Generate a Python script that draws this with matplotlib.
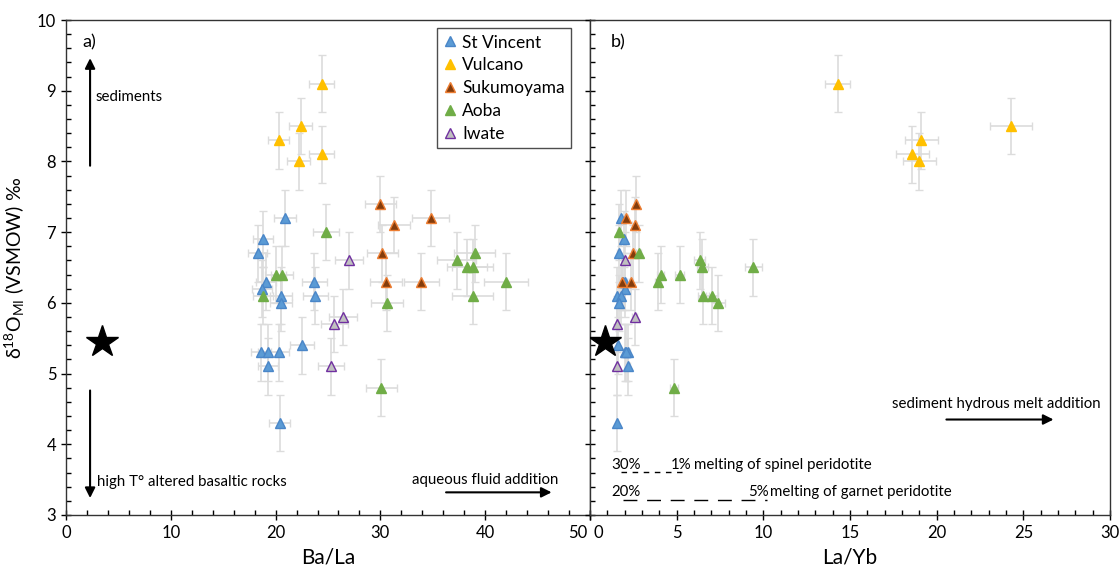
import matplotlib
matplotlib.use("Agg")
import matplotlib.pyplot as plt
import matplotlib.transforms as mtransforms
import numpy as np
from matplotlib.ticker import MultipleLocator

plt.rcParams['font.family'] = ['Lato', 'DejaVu Sans']
plt.rcParams['mathtext.default'] = 'regular'

# --- melt inclusion data: d18O (VSMOW), Ba/La and La/Yb per sample ---
stv_d18o = [7.2, 6.9, 6.7, 6.3, 6.3, 6.2, 6.1, 6.1, 6.0, 5.4, 5.3, 5.3, 5.3, 5.1, 4.3]
stv_bala = [20.9, 18.8, 18.3, 19.05, 23.7, 18.7, 20.5, 23.8, 20.5, 22.5, 18.6, 19.25, 20.3, 19.25, 20.4]
stv_layb = [1.76, 1.94, 1.65, 2.03, 1.9, 1.99, 1.57, 1.76, 1.65, 1.61, 1.99, 2.19, 2.1, 2.19, 1.55]

vul_d18o = [9.1, 8.5, 8.3, 8.1, 8.0]
vul_bala = [24.4, 22.4, 20.3, 24.4, 22.2]
vul_layb = [14.3, 24.3, 19.1, 18.6, 19.0]

suk_d18o = [7.4, 7.2, 7.1, 6.7, 6.3, 6.3]
suk_bala = [30.0, 34.8, 31.3, 30.2, 30.5, 33.9]
suk_layb = [2.65, 2.09, 2.57, 2.5, 1.86, 2.38]

aoba_d18o = [7.0, 6.7, 6.6, 6.5, 6.5, 6.4, 6.4, 6.3, 6.1, 6.1, 6.0, 4.8]
aoba_bala = [24.8, 39.0, 37.3, 38.3, 38.8, 20.0, 20.6, 42.0, 18.8, 38.8, 30.6, 30.1]
aoba_layb = [1.65, 2.82, 6.33, 6.47, 9.43, 4.08, 5.17, 3.92, 6.54, 7.04, 7.39, 4.83]

iwa_d18o = [6.6, 5.8, 5.7, 5.1]
iwa_bala = [27.0, 26.4, 25.6, 25.3]
iwa_layb = [2.0, 2.57, 1.55, 1.55]

# depleted mantle reference (star)
mantle_d18o = 5.45
mantle_bala = 3.4
mantle_layb = 0.85

D18O_ERR = 0.4        # 1 sigma on d18O
RATIO_REL_ERR = 0.05  # relative error on trace element ratios

series = [
    ("St Vincent", stv_d18o, stv_bala, stv_layb, '#5b9bd5', '#4a86c8'),
    ("Vulcano", vul_d18o, vul_bala, vul_layb, '#ffc000', '#ffc000'),
    ("Sukumoyama", suk_d18o, suk_bala, suk_layb, '#843c0c', '#ed7d31'),
    ("Aoba", aoba_d18o, aoba_bala, aoba_layb, '#70ad47', '#70ad47'),
    ("Iwate", iwa_d18o, iwa_bala, iwa_layb, '#c0c0c0', '#7030a0'),
]

ANN = 10.8  # annotation font size

fig = plt.figure(figsize=(11.2, 5.72), dpi=100)
ax_a = fig.add_axes([0.0589, 0.0997, 0.4679, 0.8653])
ax_b = fig.add_axes([0.5268, 0.0997, 0.4643, 0.8653])


def draw_panel(ax, idx):
    handles = []
    for name, d18o, bala, layb, fc, ec in series:
        xv = np.array(bala if idx == 0 else layb)
        yv = np.array(d18o)
        ax.errorbar(xv, yv, xerr=RATIO_REL_ERR * xv, yerr=D18O_ERR, fmt='none',
                    ecolor='#dcdcdc', elinewidth=1.2, capsize=3, capthick=1.0, zorder=1)
        h, = ax.plot(xv, yv, ls='none', marker='^', ms=7.5, mfc=fc, mec=ec,
                     mew=1.0, zorder=3, label=name)
        handles.append(h)
    mx = mantle_bala if idx == 0 else mantle_layb
    ax.plot([mx], [mantle_d18o], ls='none', marker='*', ms=24, color='black', zorder=4)
    ax.set_ylim(3, 10)
    ax.yaxis.set_major_locator(MultipleLocator(1))
    ax.yaxis.set_minor_locator(MultipleLocator(0.2))
    ax.tick_params(which='major', direction='inout', length=7, width=1, labelsize=12)
    ax.tick_params(which='minor', direction='in', length=3.5, width=1)
    for sp in ax.spines.values():
        sp.set_linewidth(1.0)
        sp.set_color('#333333')
    return handles


handles = draw_panel(ax_a, 0)
draw_panel(ax_b, 1)

# --- panel a: Ba/La ---
ax_a.set_xlim(0, 50)
ax_a.xaxis.set_major_locator(MultipleLocator(10))
ax_a.xaxis.set_minor_locator(MultipleLocator(2))
ax_a.set_xlabel("Ba/La", fontsize=15, labelpad=5)
ax_a.set_ylabel(r"δ$^{18}$O$_{MI}$ (VSMOW) ‰", fontsize=14, labelpad=7)

ax_a.text(0.032, 0.955, "a)", transform=ax_a.transAxes, fontsize=13, va='center')
ax_a.annotate('', xy=(2.3, 9.5), xytext=(2.3, 7.9),
              arrowprops=dict(arrowstyle='-|>', color='black', lw=1.5, mutation_scale=15))
ax_a.text(2.8, 8.91, "sediments", fontsize=ANN, va='center')
ax_a.annotate('', xy=(2.3, 3.2), xytext=(2.3, 4.8),
              arrowprops=dict(arrowstyle='-|>', color='black', lw=1.5, mutation_scale=15))
ax_a.text(3.0, 3.47, "high T° altered basaltic rocks", fontsize=ANN, va='center')
ax_a.annotate('', xy=(46.6, 3.32), xytext=(36.0, 3.32),
              arrowprops=dict(arrowstyle='-|>', color='black', lw=1.5, mutation_scale=15))
ax_a.text(33.0, 3.49, "aqueous fluid addition", fontsize=ANN, va='center')

leg = ax_a.legend(handles=handles, loc='upper left', bbox_to_anchor=(0.708, 0.983),
                  fontsize=12.5, frameon=True, fancybox=False, edgecolor='#222222',
                  handlelength=0.8, handletextpad=0.3, labelspacing=0.4,
                  borderpad=0.35, borderaxespad=0)
leg.get_frame().set_linewidth(1.0)

# --- panel b: La/Yb ---
ax_b.set_xlim(0, 30)
ax_b.xaxis.set_major_locator(MultipleLocator(5))
ax_b.xaxis.set_minor_locator(MultipleLocator(1))
ax_b.tick_params(axis='y', labelleft=False)
ax_b.set_xlabel("La/Yb", fontsize=15, labelpad=5)

ax_b.text(0.04, 0.955, "b)", transform=ax_b.transAxes, fontsize=13, va='center')
ax_b.text(17.4, 4.57, "sediment hydrous melt addition", fontsize=ANN, va='center')
ax_b.annotate('', xy=(26.9, 4.35), xytext=(20.4, 4.35),
              arrowprops=dict(arrowstyle='-|>', color='black', lw=1.5, mutation_scale=15))

# melting trends (spinel and garnet peridotite)
ax_b.plot([1.8, 5.3], [3.61, 3.61], color='black', lw=1.0, ls=(0, (4, 4)))
ax_b.text(1.24, 3.71, "30%", fontsize=ANN, va='center')
ax_b.text(4.65, 3.71, "1%", fontsize=ANN, va='center')
ax_b.text(6.0, 3.71, "melting of spinel peridotite", fontsize=ANN, va='center')

ax_b.plot([1.9, 10.2], [3.21, 3.21], color='black', lw=1.0, ls=(0, (10, 7)))
ax_b.text(1.24, 3.32, "20%", fontsize=ANN, va='center')
ax_b.text(9.1, 3.32, "5%", fontsize=ANN, va='center')
ax_b.text(10.4, 3.32, "melting of garnet peridotite", fontsize=ANN, va='center')

# pull the shared-edge tick labels apart ("50" left, "0" right)
fig.canvas.draw()
for lab in ax_a.get_xticklabels():
    if lab.get_text() == '50':
        lab.set_transform(lab.get_transform() +
                          mtransforms.ScaledTranslation(-9 / 72, 0, fig.dpi_scale_trans))
for lab in ax_b.get_xticklabels():
    if lab.get_text() == '0':
        lab.set_transform(lab.get_transform() +
                          mtransforms.ScaledTranslation(6 / 72, 0, fig.dpi_scale_trans))

fig.savefig("out.png", dpi=100)
